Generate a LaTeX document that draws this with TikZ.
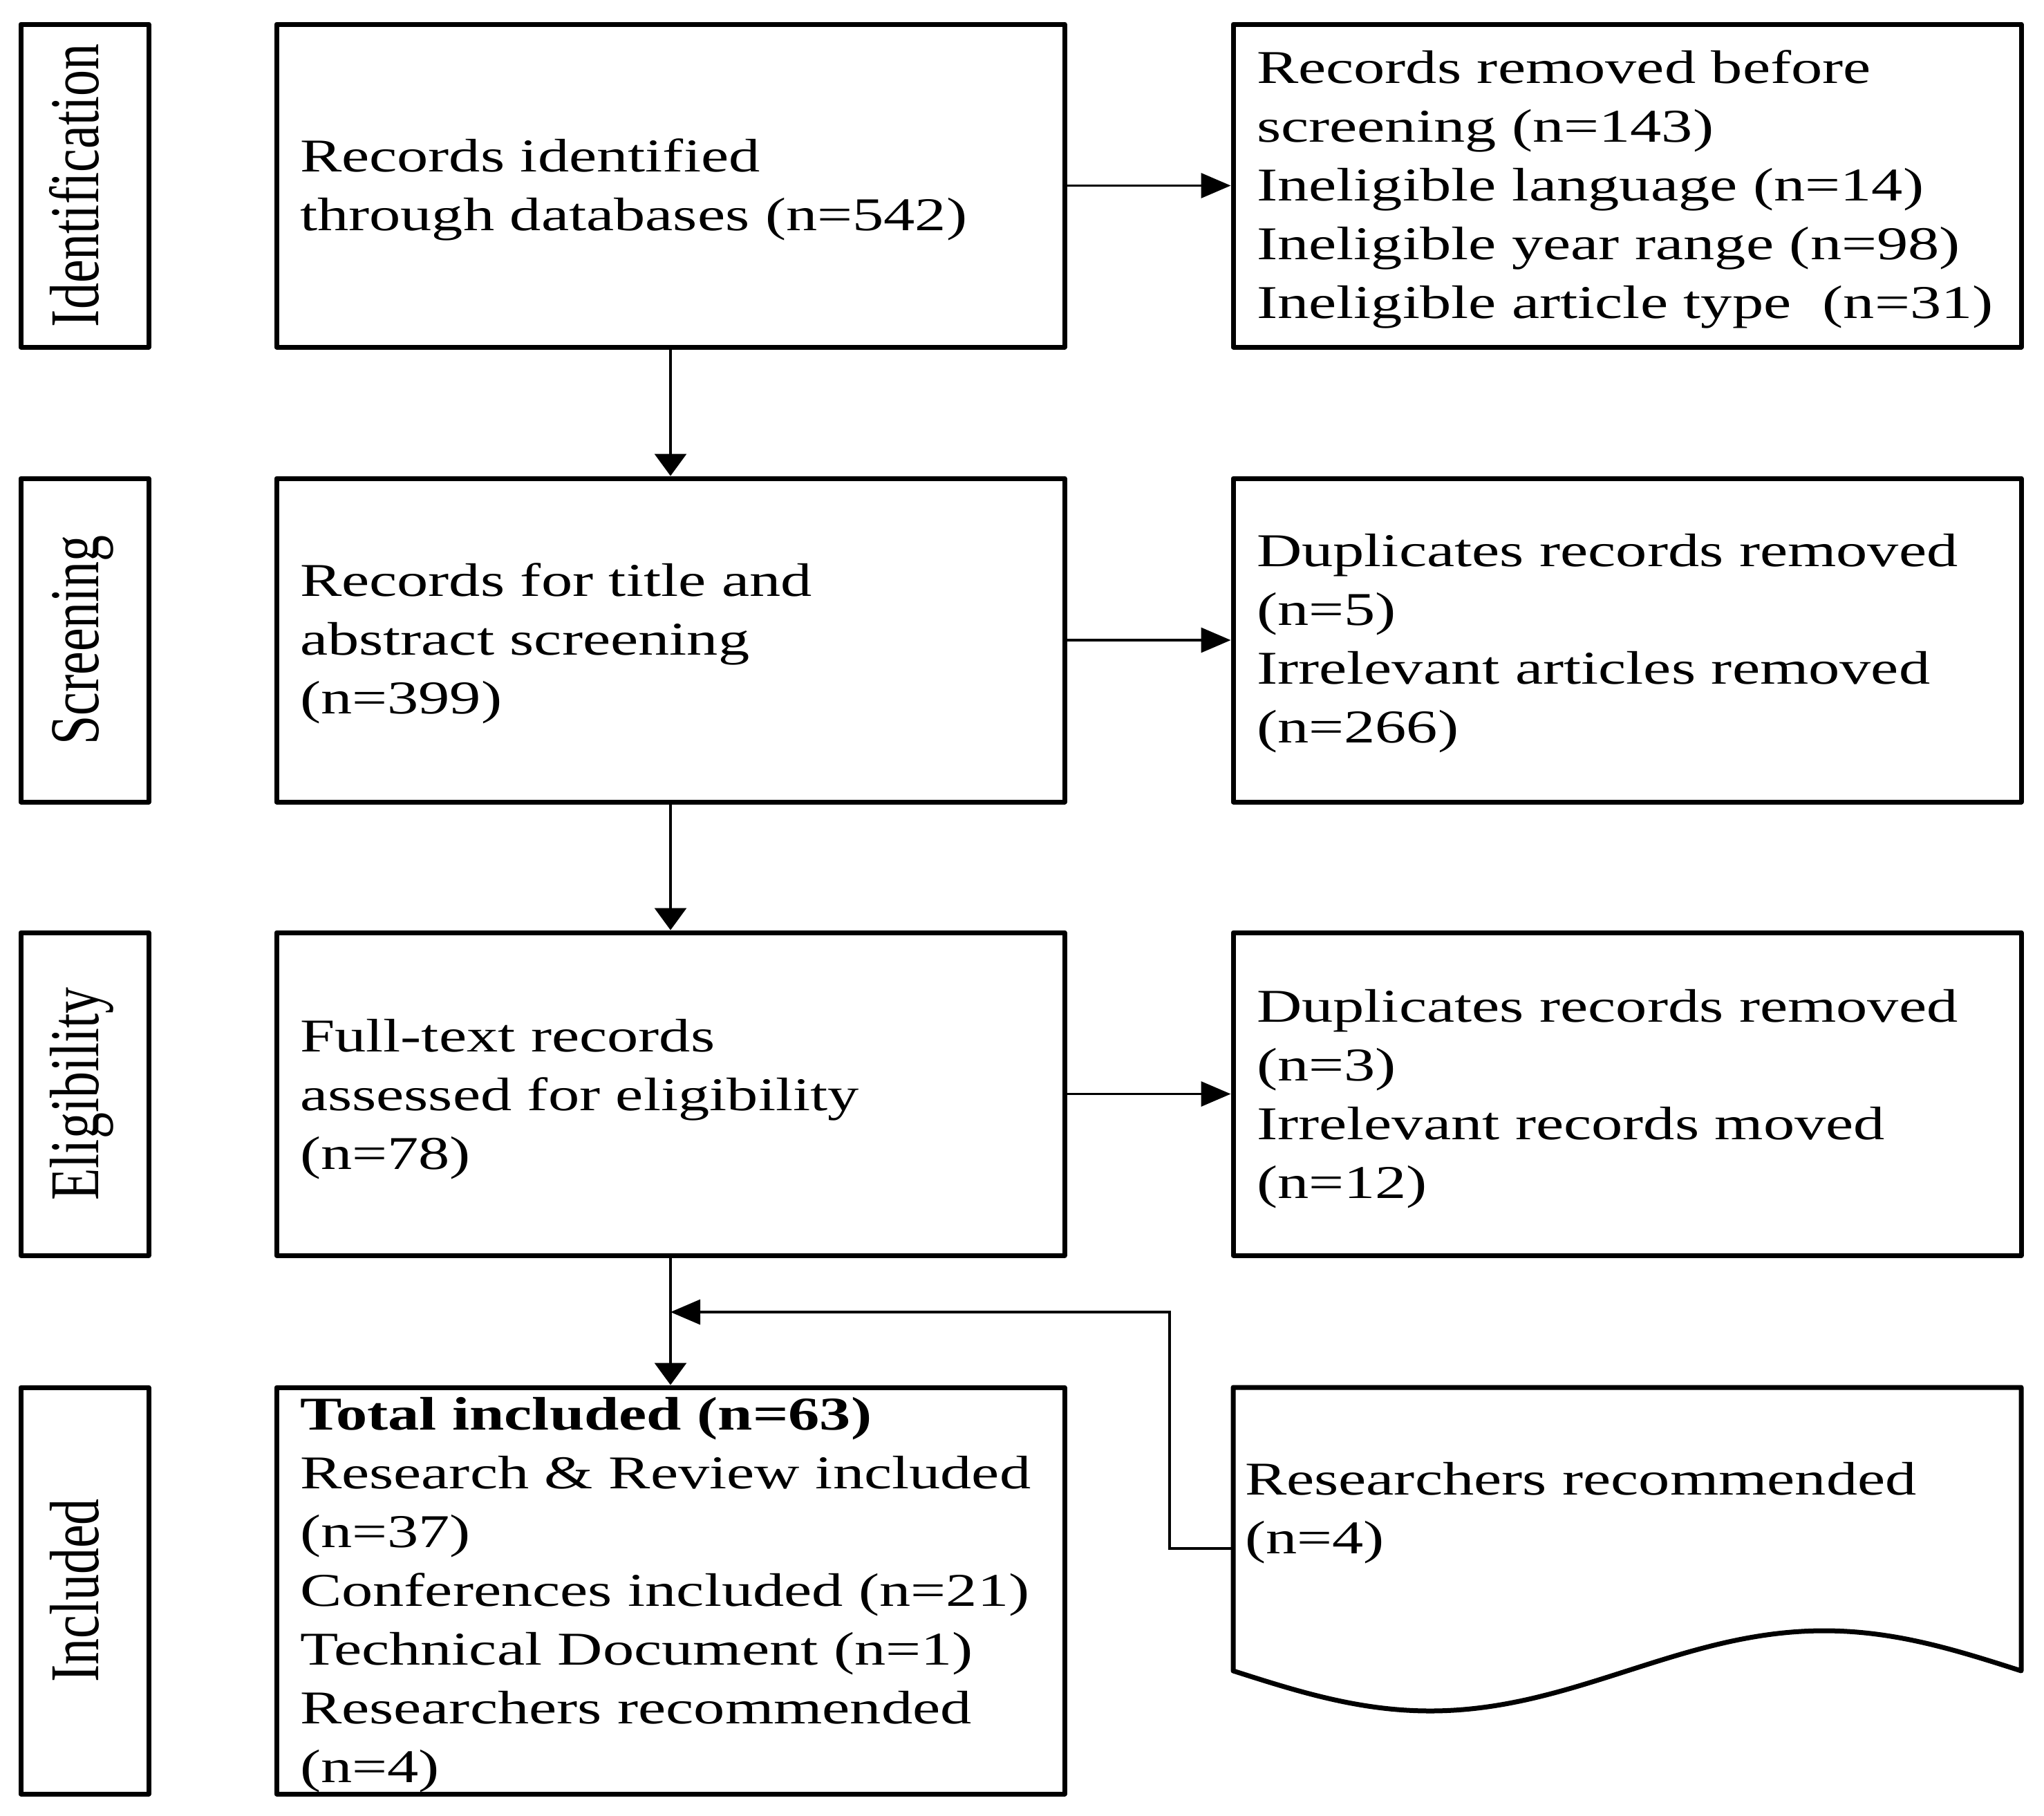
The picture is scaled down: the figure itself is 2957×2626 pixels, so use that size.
\documentclass[tikz,border=0pt]{standalone}
\usepackage{fontspec}
\usepackage{graphicx}
\setmainfont{Liberation Serif}
\newfontfamily\wide{Liberation Serif}[FakeStretch=1.33]
\usetikzlibrary{arrows.meta}
\newcommand\lns[1]{\begin{tabular}[t]{@{}l@{}}#1\end{tabular}}
\begin{document}
\begin{tikzpicture}[x=1pt,y=-1pt,
  box/.style={draw, line width=7pt, line join=round, inner sep=0pt},
  txt/.style={inner sep=0pt, outer sep=0pt, anchor=base west, font=\wide\fontsize{68}{85}\selectfont},
  lbl/.style={inner sep=0pt, anchor=base, rotate=90, font=\fontsize{76}{90}\selectfont},
  conn/.style={line width=3.3pt},
  varrow/.style={conn, -{Triangle[length=32pt,width=46pt]}},
  harrow/.style={conn, -{Triangle[length=43pt,width=36pt]}}]
\useasboundingbox (0,0) rectangle (2957,2626);

% stage labels
\node[box, minimum width=185pt, minimum height=467pt] (l1) at (122.5,268.5) {};
\node[box, minimum width=185pt, minimum height=468pt] (l2) at (122.5,926) {};
\node[box, minimum width=185pt, minimum height=467pt] (l3) at (122.5,1582.5) {};
\node[box, minimum width=185pt, minimum height=588pt] (l4) at (122.5,2301) {};
\node[lbl] (l1t) at (142,268.5) {\scalebox{1}[1.33]{Identification}};
\node[lbl] (l2t) at (142,926) {\scalebox{1}[1.33]{Screening}};
\node[lbl] (l3t) at (142,1582.5) {\scalebox{1}[1.33]{Eligibility}};
\node[lbl] (l4t) at (142,2301) {\scalebox{1}[1.33]{Included}};

% main column
\node[box, minimum width=1140pt, minimum height=467pt] (m1) at (970,268.5) {};
\node[box, minimum width=1140pt, minimum height=468pt] (m2) at (970,926) {};
\node[box, minimum width=1140pt, minimum height=467pt] (m3) at (970,1582.5) {};
\node[box, minimum width=1140pt, minimum height=588pt] (m4) at (970,2301) {};

% right column
\node[box, minimum width=1140pt, minimum height=467pt] (r1) at (2354,268.5) {};
\node[box, minimum width=1140pt, minimum height=468pt] (r2) at (2354,926) {};
\node[box, minimum width=1140pt, minimum height=467pt] (r3) at (2354,1582.5) {};
\node[inner sep=0pt, outer sep=0pt, minimum width=1140pt, minimum height=410pt] (doc) at (2354,2212) {};
\draw[line width=7pt, line join=round] (doc.south west) -- (doc.north west) -- (doc.north east) -- (doc.south east)
  sin +(-285,-58) cos +(-285,58) sin +(-285,58) cos +(-285,-58) -- cycle;

% texts
\node[txt] (m1t) at (434,248) {\lns{Records identified\\through databases (n=542)}};
\node[txt] (r1t) at (1818,120) {\lns{Records removed before\\screening (n=143)\\Ineligible language (n=14)\\Ineligible year range (n=98)\\Ineligible article type\ \ (n=31)}};
\node[txt] (m2t) at (434,862) {\lns{Records for title and\\abstract screening\\(n=399)}};
\node[txt] (r2t) at (1818,819) {\lns{Duplicates records removed\\(n=5)\\Irrelevant articles removed\\(n=266)}};
\node[txt] (m3t) at (434,1521) {\lns{Full-text records\\assessed for eligibility\\(n=78)}};
\node[txt] (r3t) at (1818,1478) {\lns{Duplicates records removed\\(n=3)\\Irrelevant records moved\\(n=12)}};
\node[txt] (m4t) at (434,2068) {\lns{\textbf{Total included (n=63)}\\Research \& Review included\\(n=37)\\Conferences included (n=21)\\Technical Document (n=1)\\Researchers recommended\\(n=4)}};
\node[txt] (doct) at (1801,2162) {\lns{Researchers recommended\\(n=4)}};

% connectors
\draw[varrow] (m1.south) -- (m2.north);
\draw[varrow] (m2.south) -- (m3.north);
\draw[varrow] (m3.south) -- (m4.north);
\draw[harrow] (m1.east) -- (r1.west);
\draw[harrow] (m2.east) -- (r2.west);
\draw[harrow] (m3.east) -- (r3.west);
\coordinate (fbs) at (doc.west |- 0,2240);
\coordinate (bend) at (1692,1898);
\coordinate (join) at (m3.south |- bend);
\draw[harrow] (fbs) -| (bend) -- (join);
\end{tikzpicture}
\end{document}
